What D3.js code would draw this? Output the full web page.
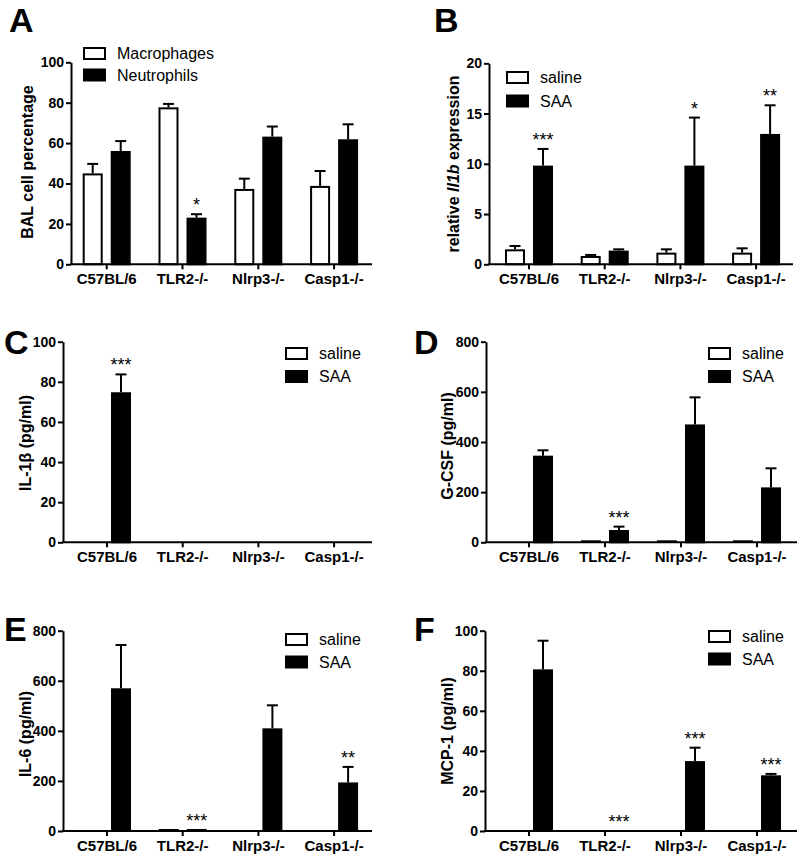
<!DOCTYPE html>
<html>
<head>
<meta charset="utf-8">
<script src="https://cdn.jsdelivr.net/npm/d3@7"></script>
<style>
  html, body { margin: 0; padding: 0; background: #fff; }
  svg { display: block; font-family: "Liberation Sans", Arial, sans-serif; }
</style>
</head>
<body>
<svg id="chart" width="800" height="860"></svg>
<script>
// ---------- DATA ----------
const categories = ["C57BL/6", "TLR2-/-", "Nlrp3-/-", "Casp1-/-"];

// Panel A: BAL cell percentage
const aMacrophages    = [45.0, 77.7, 37.3, 38.8];
const aMacrophagesErr = [4.7, 1.7, 5.1, 7.4];
const aNeutrophils    = [56.1, 23.1, 63.2, 61.9];
const aNeutrophilsErr = [4.9, 1.7, 5.0, 7.4];
const aStarsNeut      = ["", "*", "", ""];
const aTicks          = [0, 20, 40, 60, 80, 100];

// Panel B: relative Il1b expression
const bSaline    = [1.49, 0.83, 1.16, 1.16];
const bSalineErr = [0.33, 0.10, 0.33, 0.43];
const bSAA       = [9.82, 1.36, 9.82, 12.97];
const bSAAErr    = [1.66, 0.13, 4.78, 2.85];
const bStarsSAA  = ["***", "", "*", "**"];
const bTicks     = [0, 5, 10, 15, 20];

// Panel C: IL-1β (pg/ml)
const cSaline    = [0, 0, 0, 0];
const cSalineErr = [0, 0, 0, 0];
const cSAA       = [74.8, 0, 0, 0];
const cSAAErr    = [8.9, 0, 0, 0];
const cStarsSAA  = ["***", "", "", ""];
const cTicks     = [0, 20, 40, 60, 80, 100];

// Panel D: G-CSF (pg/ml)
const dSaline    = [0, 6.6, 3, 3];
const dSalineErr = [0, 0, 0, 0];
const dSAA       = [345.5, 49, 470, 219];
const dSAAErr    = [21.3, 13.5, 108, 76];
const dStarsSAA  = ["", "***", "", ""];
const dTicks     = [0, 200, 400, 600, 800];

// Panel E: IL-6 (pg/ml)
const eSaline    = [0, 5, 0, 0];
const eSalineErr = [0, 0, 0, 0];
const eSAA       = [570, 5, 410, 194];
const eSAAErr    = [173, 0, 92, 62];
const eStarsSAA  = ["", "***", "", "**"];
const eTicks     = [0, 200, 400, 600, 800];

// Panel F: MCP-1 (pg/ml)
const fSaline    = [0, 0, 0, 0];
const fSalineErr = [0, 0, 0, 0];
const fSAA       = [80.7, 0, 34.9, 27.8];
const fSAAErr    = [14.3, 0, 6.7, 0.7];
const fStarsSAA  = ["", "***", "***", "***"];
const fTicks     = [0, 20, 40, 60, 80, 100];

// ---------- LAYOUT ----------
const svg = d3.select("#chart");
const FONT = "'Liberation Sans', Arial, sans-serif";

const panels = [
  { letter: "A", lx: 9, ly: 32, axisX: 71, firstC: 106.7, step: 75.8, xEnd: 372, yTop: 62.3, yBot: 264.3,
    max: 100, ticks: aTicks, title: [["BAL cell percentage", false]], tx: 27, ty: 162,
    legend: ["Macrophages", "Neutrophils"], legX: 83, legY: 47, legGap: 21.5,
    s1: aMacrophages, e1: aMacrophagesErr, s2: aNeutrophils, e2: aNeutrophilsErr, st1: ["", "", "", ""], st2: aStarsNeut },
  { letter: "B", lx: 434, ly: 32, axisX: 489, firstC: 529, step: 75.7, xEnd: 793, yTop: 63.3, yBot: 264.3,
    max: 20, ticks: bTicks, title: [["relative ", false], ["Il1b", true], [" expression", false]], tx: 453, ty: 164,
    legend: ["saline", "SAA"], legX: 506, legY: 71, legGap: 23.5,
    s1: bSaline, e1: bSalineErr, s2: bSAA, e2: bSAAErr, st1: ["", "", "", ""], st2: bStarsSAA },
  { letter: "C", lx: 4, ly: 354, axisX: 63, firstC: 107, step: 75.7, xEnd: 372, yTop: 341.7, yBot: 542.3,
    max: 100, ticks: cTicks, title: [["IL-1β (pg/ml)", false]], tx: 25, ty: 443,
    legend: ["saline", "SAA"], legX: 285, legY: 347, legGap: 23,
    s1: cSaline, e1: cSalineErr, s2: cSAA, e2: cSAAErr, st1: ["", "", "", ""], st2: cStarsSAA },
  { letter: "D", lx: 414, ly: 354, axisX: 486, firstC: 529, step: 76, xEnd: 797, yTop: 341.7, yBot: 542.3,
    max: 800, ticks: dTicks, title: [["G-CSF (pg/ml)", false]], tx: 447, ty: 446,
    legend: ["saline", "SAA"], legX: 708, legY: 347, legGap: 23,
    s1: dSaline, e1: dSalineErr, s2: dSAA, e2: dSAAErr, st1: ["", "", "", ""], st2: dStarsSAA },
  { letter: "E", lx: 4, ly: 641, axisX: 63, firstC: 107, step: 75.7, xEnd: 372, yTop: 630.7, yBot: 831,
    max: 800, ticks: eTicks, title: [["IL-6 (pg/ml)", false]], tx: 25, ty: 734,
    legend: ["saline", "SAA"], legX: 285, legY: 633, legGap: 22.5,
    s1: eSaline, e1: eSalineErr, s2: eSAA, e2: eSAAErr, st1: ["", "", "", ""], st2: eStarsSAA },
  { letter: "F", lx: 414, ly: 641, axisX: 485, firstC: 529, step: 76, xEnd: 797, yTop: 630.7, yBot: 831,
    max: 100, ticks: fTicks, title: [["MCP-1 (pg/ml)", false]], tx: 447, ty: 731,
    legend: ["saline", "SAA"], legX: 708, legY: 630, legGap: 22.5,
    s1: fSaline, e1: fSalineErr, s2: fSAA, e2: fSAAErr, st1: ["", "", "", ""], st2: fStarsSAA }
];

const BAR_W = 20, INNER = 4, CAP = 11;

panels.forEach(p => {
  const g = svg.append("g");
  const x = d3.scaleBand().domain(categories)
    .range([p.firstC - p.step / 2, p.firstC + 3.5 * p.step]).padding(0);
  const cx = c => x(c) + x.bandwidth() / 2;
  const y = d3.scaleLinear().domain([0, p.max]).range([p.yBot, p.yTop]);

  // panel letter
  g.append("text").attr("x", p.lx).attr("y", p.ly).text(p.letter)
    .attr("font-family", FONT).attr("font-weight", "bold").attr("font-size", 34).attr("fill", "#000");

  // bars
  const series = [
    { vals: p.s1, errs: p.e1, stars: p.st1, fill: "#fff", off: -INNER - BAR_W },
    { vals: p.s2, errs: p.e2, stars: p.st2, fill: "#000", off: INNER }
  ];
  series.forEach(s => {
    const data = categories.map((c, i) => ({ c, v: s.vals[i], e: s.errs[i], st: s.stars[i] }));
    // error bars
    const eb = data.filter(d => d.e > 0);
    g.selectAll(null).data(eb).enter().append("line")
      .attr("x1", d => cx(d.c) + s.off + BAR_W / 2).attr("x2", d => cx(d.c) + s.off + BAR_W / 2)
      .attr("y1", d => y(d.v)).attr("y2", d => y(d.v + d.e))
      .attr("stroke", "#000").attr("stroke-width", 2);
    g.selectAll(null).data(eb).enter().append("line")
      .attr("x1", d => cx(d.c) + s.off + BAR_W / 2 - CAP / 2).attr("x2", d => cx(d.c) + s.off + BAR_W / 2 + CAP / 2)
      .attr("y1", d => y(d.v + d.e)).attr("y2", d => y(d.v + d.e))
      .attr("stroke", "#000").attr("stroke-width", 2);
    // bars
    g.selectAll(null).data(data.filter(d => d.v > 0)).enter().append("rect")
      .attr("x", d => cx(d.c) + s.off + 1)
      .attr("y", d => Math.min(y(d.v) + 1, p.yBot - 1))
      .attr("width", BAR_W - 2)
      .attr("height", d => Math.max(p.yBot - y(d.v) - 1, 0.5))
      .attr("fill", s.fill).attr("stroke", "#000").attr("stroke-width", 2);
    // stars
    g.selectAll(null).data(data.filter(d => d.st)).enter().append("text")
      .attr("x", d => cx(d.c) + s.off + BAR_W / 2)
      .attr("y", d => y(d.v + d.e) - 3)
      .attr("text-anchor", "middle")
      .attr("font-family", FONT).attr("font-size", 18).attr("fill", "#000")
      .text(d => d.st);
  });

  // y axis
  const ya = g.append("g").attr("transform", `translate(${p.axisX},0)`)
    .call(d3.axisLeft(y).tickValues(p.ticks).tickSize(5).tickSizeOuter(0).tickPadding(2).tickFormat(d3.format("d")));
  ya.select(".domain").attr("stroke-width", 2).attr("stroke", "#000");
  ya.selectAll(".tick line").attr("stroke-width", 2).attr("stroke", "#000");
  ya.selectAll(".tick text").attr("font-family", FONT).attr("font-weight", "bold").attr("font-size", 14).attr("fill", "#000");

  // x axis
  const xa = g.append("g").attr("transform", `translate(0,${p.yBot})`)
    .call(d3.axisBottom(x).tickSize(5).tickSizeOuter(0).tickPadding(4));
  xa.select(".domain").remove();
  xa.selectAll(".tick line").attr("stroke-width", 2).attr("stroke", "#000");
  xa.selectAll(".tick text").attr("font-family", FONT).attr("font-weight", "bold").attr("font-size", 15).attr("fill", "#000");
  g.append("line").attr("x1", p.axisX - 1).attr("x2", p.xEnd).attr("y1", p.yBot).attr("y2", p.yBot)
    .attr("stroke", "#000").attr("stroke-width", 2);

  // y title
  const t = g.append("text").attr("transform", `translate(${p.tx},${p.ty}) rotate(-90)`)
    .attr("text-anchor", "middle").attr("dy", "0.35em")
    .attr("font-family", FONT).attr("font-weight", "bold").attr("font-size", 16).attr("fill", "#000");
  p.title.forEach(([txt, it]) => {
    const ts = t.append("tspan").text(txt);
    if (it) ts.attr("font-style", "italic");
  });

  // legend
  p.legend.forEach((lab, i) => {
    const ly = p.legY + i * p.legGap;
    g.append("rect").attr("x", p.legX + 1).attr("y", ly + 1).attr("width", 21).attr("height", 11)
      .attr("fill", i === 0 ? "#fff" : "#000").attr("stroke", "#000").attr("stroke-width", 2);
    g.append("text").attr("x", p.legX + 34).attr("y", ly + 6.5).attr("dy", "0.35em")
      .attr("font-family", FONT).attr("font-size", 16).attr("fill", "#000").text(lab);
  });
});
</script>
</body>
</html>
